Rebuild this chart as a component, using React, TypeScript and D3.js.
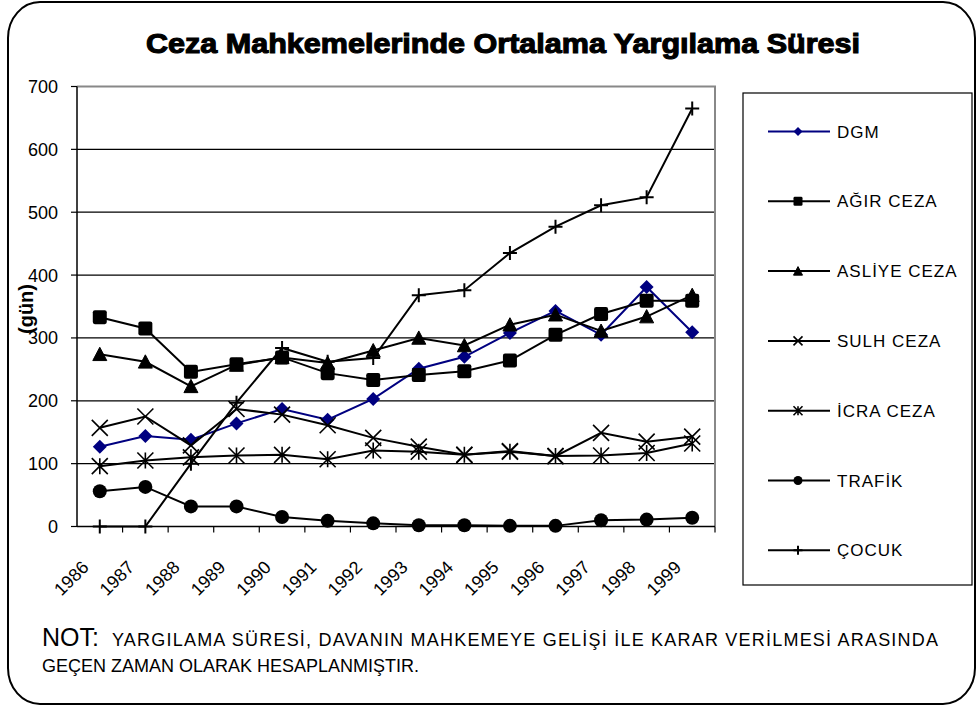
import * as d3 from 'd3';

const years = ['1986', '1987', '1988', '1989', '1990', '1991', '1992', '1993', '1994', '1995', '1996', '1997', '1998', '1999'];
const dgm = [127, 144, 138, 164, 187, 170, 203, 251, 270, 308, 343, 305, 381, 309];
const agirCeza = [333, 315, 246, 258, 269, 244, 233, 241, 247, 264, 305, 338, 359, 359];
const asliyeCeza = [274, 262, 223, 257, 269, 260, 280, 300, 288, 321, 337, 311, 334, 368];
const sulhCeza = [157, 175, 129, 187, 178, 161, 141, 127, 114, 120, 112, 149, 135, 143];
const icraCeza = [96, 105, 110, 113, 114, 107, 121, 119, 114, 119, 112, 113, 117, 132];
const trafik = [56, 63, 32, 32, 15, 9, 5, 2, 2, 1, 1, 10, 11, 14];
const cocuk = [0, 0, 100, 197, 284, 262, 268, 368, 376, 435, 477, 511, 524, 665];
const yTicks = [0, 100, 200, 300, 400, 500, 600, 700];

type Shape = 'diamond' | 'square' | 'triangle' | 'x' | 'star' | 'circle' | 'plus';

const series: { name: string; values: number[]; color: string; shape: Shape }[] = [
  { name: 'DGM', values: dgm, color: '#000080', shape: 'diamond' },
  { name: 'AĞIR CEZA', values: agirCeza, color: '#000', shape: 'square' },
  { name: 'ASLİYE CEZA', values: asliyeCeza, color: '#000', shape: 'triangle' },
  { name: 'SULH CEZA', values: sulhCeza, color: '#000', shape: 'x' },
  { name: 'İCRA CEZA', values: icraCeza, color: '#000', shape: 'star' },
  { name: 'TRAFİK', values: trafik, color: '#000', shape: 'circle' },
  { name: 'ÇOCUK', values: cocuk, color: '#000', shape: 'plus' },
];

const FONT = '"Liberation Sans", Arial, sans-serif';

// one marker drawn around (x, y), s = full size
function Marker({ shape, x, y, s, color }: { shape: Shape; x: number; y: number; s: number; color: string }) {
  const h = s / 2;
  switch (shape) {
    case 'diamond':
      return <path d={`M${x},${y - h}L${x + h},${y}L${x},${y + h}L${x - h},${y}Z`} fill={color} />;
    case 'square':
      return <rect x={x - h} y={y - h} width={s} height={s} rx={s * 0.15} fill={color} />;
    case 'triangle':
      return <path d={`M${x},${y - h}L${x + h},${y + h * 0.9}L${x - h},${y + h * 0.9}Z`} fill={color} strokeLinejoin="round" stroke={color} strokeWidth={1} />;
    case 'circle':
      return <circle cx={x} cy={y} r={h} fill={color} />;
    case 'x':
      return <path d={`M${x - h},${y - h}L${x + h},${y + h}M${x + h},${y - h}L${x - h},${y + h}`} stroke={color} strokeWidth={1.6} />;
    case 'star':
      return <path d={`M${x - h},${y - h}L${x + h},${y + h}M${x + h},${y - h}L${x - h},${y + h}M${x},${y - h}L${x},${y + h}`} stroke={color} strokeWidth={1.6} />;
    case 'plus':
      return <path d={`M${x - h},${y}L${x + h},${y}M${x},${y - h}L${x},${y + h}`} stroke={color} strokeWidth={2} />;
  }
}

export default function App() {
  const plot = { left: 77, right: 715, top: 86.5, bottom: 526.5 };
  const x = d3.scaleBand().domain(years).range([plot.left, plot.right]);
  const y = d3.scaleLinear().domain([0, 700]).range([plot.bottom, plot.top]);
  const cx = (d: string) => (x(d) || 0) + x.bandwidth() / 2;
  const line = d3.line<number>().x((_, i) => cx(years[i])).y(v => y(v));

  const legend = { x: 743, y: 93, w: 229, h: 492, first: 131.5, step: 69.8 };

  return (
    <div style={{ position: 'absolute', left: 0, top: 0 }}>
      <svg width={980} height={709} style={{ display: 'block', fontFamily: FONT }}>
        <rect x={0} y={0} width={980} height={709} fill="#fff" />
        <rect x={8} y={2} width={967} height={702} rx={32} ry={36} fill="#fff" stroke="#000" strokeWidth={2} />

        <text x={503} y={53} textAnchor="middle" fontSize={27} fontWeight="bold" stroke="#000" strokeWidth={1.1}
          textLength={714} lengthAdjust="spacingAndGlyphs">
          Ceza Mahkemelerinde Ortalama Yargılama Süresi
        </text>

        {/* gridlines */}
        {yTicks.filter(t => t > 0 && t < 700).map(t => (
          <line key={t} x1={plot.left} x2={plot.right} y1={y(t)} y2={y(t)} stroke="#000" strokeWidth={1.2} />
        ))}
        {/* plot border top/right */}
        <path d={`M${plot.left},${plot.top}H${plot.right}V${plot.bottom}`} fill="none" stroke="#888" strokeWidth={2} />

        {/* y axis */}
        <line x1={plot.left} x2={plot.left} y1={plot.top} y2={plot.bottom} stroke="#000" strokeWidth={1.5} />
        {yTicks.map(t => (
          <g key={t}>
            <line x1={plot.left - 6} x2={plot.left} y1={y(t)} y2={y(t)} stroke="#000" strokeWidth={1.2} />
            <text x={58} y={y(t)} dy="0.36em" textAnchor="end" fontSize={18}>{t}</text>
          </g>
        ))}
        <text transform={`translate(33,309) rotate(-90)`} textAnchor="middle" fontSize={20} fontWeight="bold">(gün)</text>

        {/* x axis */}
        <line x1={plot.left} x2={plot.right} y1={plot.bottom} y2={plot.bottom} stroke="#000" strokeWidth={1.5} />
        {years.map(yr => (
          <line key={yr} x1={(x(yr) || 0) + x.bandwidth()} x2={(x(yr) || 0) + x.bandwidth()} y1={plot.bottom} y2={plot.bottom + 6}
            stroke="#000" strokeWidth={1.2} />
        ))}
        {years.map(yr => (
          <text key={yr} transform={`translate(${cx(yr) - 10},${plot.bottom + 42}) rotate(-45)`} textAnchor="end" fontSize={18}>{yr}</text>
        ))}

        {/* series */}
        {series.map(s => (
          <g key={s.name}>
            <path d={line(s.values) || ''} fill="none" stroke={s.color} strokeWidth={2} />
            {s.values.map((v, i) => (
              <Marker key={i} shape={s.shape} x={cx(years[i])} y={y(v)} s={s.shape === 'x' || s.shape === 'star' ? 16 : 14} color={s.color} />
            ))}
          </g>
        ))}

        {/* legend */}
        <rect x={legend.x} y={legend.y} width={legend.w} height={legend.h} fill="#fff" stroke="#000" strokeWidth={1.2} />
        {series.map((s, i) => {
          const ly = legend.first + i * legend.step;
          return (
            <g key={s.name}>
              <line x1={768} x2={830} y1={ly} y2={ly} stroke={s.color} strokeWidth={2} />
              <Marker shape={s.shape} x={798} y={ly} s={9} color={s.color} />
              <text x={837} y={ly} dy="0.36em" fontSize={17} letterSpacing={1}>{s.name}</text>
            </g>
          );
        })}

        {/* note */}
        <text x={42} y={646} fontSize={25}>NOT:</text>
        <text x={112} y={646} fontSize={18} textLength={826} lengthAdjust="spacing">
          YARGILAMA SÜRESİ, DAVANIN MAHKEMEYE GELİŞİ İLE KARAR VERİLMESİ ARASINDA
        </text>
        <text x={42} y={672} fontSize={18}>GEÇEN ZAMAN OLARAK HESAPLANMIŞTIR.</text>
      </svg>
    </div>
  );
}
